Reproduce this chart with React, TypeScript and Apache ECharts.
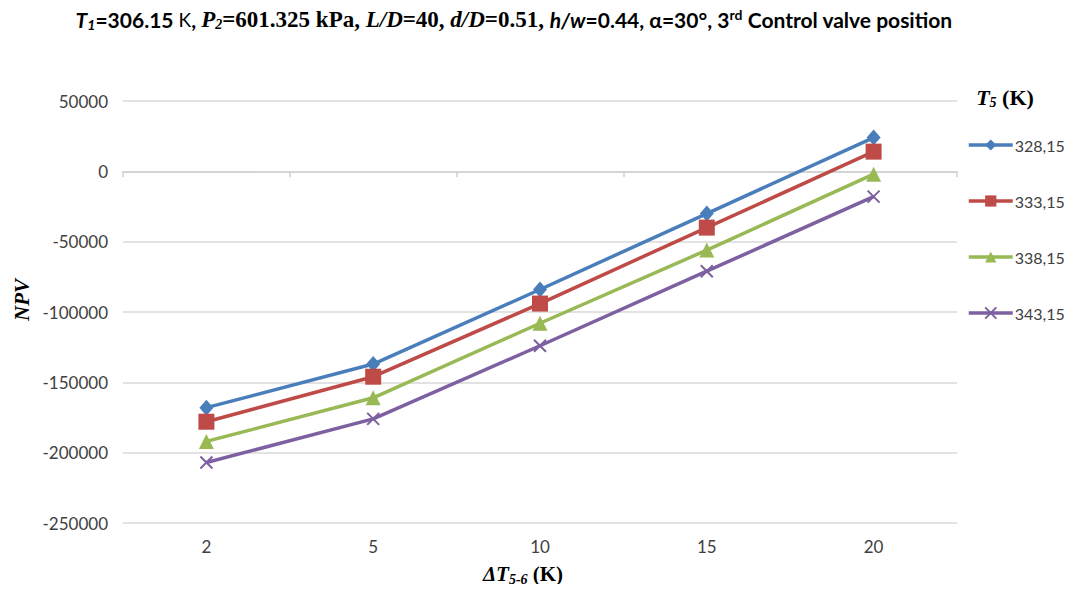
import React, { useEffect, useRef } from "react";
import * as echarts from "echarts";

const categories = ["2", "5", "10", "15", "20"];
const seriesNames = ["328,15", "333,15", "338,15", "343,15"];
const npv328 = [-168000, -137000, -84000, -30000, 24000];
const npv333 = [-178000, -146000, -94000, -40000, 14000];
const npv338 = [-192000, -161000, -108000, -56000, -2000];
const npv343 = [-207000, -176000, -124000, -71000, -18000];
const colors = ["#4a7ebb", "#be4b48", "#98b954", "#7d60a0"];
const symbols = [
  "diamond",
  "rect",
  "triangle",
  "path://M0,0L10,10M10,0L0,10",
];
const symbolSizes = [[14, 16], 16, 15, 12];

const CAL = "'Lato', sans-serif";
const TNR = "'Liberation Serif', 'Times New Roman', serif";

export default function App() {
  const ref = useRef<HTMLDivElement>(null);
  useEffect(() => {
    if (!ref.current) return;
    const chart = echarts.init(ref.current, null, { renderer: "svg" });
    const allData = [npv328, npv333, npv338, npv343];
    const main = { fontSize: 21, fontWeight: "bold", color: "#000", lineHeight: 28, verticalAlign: "middle" };
    const titleRich: any = {
      ci: { ...main, fontFamily: CAL, fontStyle: "italic" },
      cb: { ...main, fontFamily: CAL },
      cn: { ...main, fontFamily: CAL, fontWeight: "normal", fontSize: 19 },
      csub: { fontFamily: CAL, fontStyle: "italic", fontWeight: "bold", fontSize: 14, color: "#000", padding: [10, 0, 0, 0] },
      csup: { fontFamily: CAL, fontWeight: "bold", fontSize: 14, color: "#000", padding: [0, 0, 10, 0] },
      ti: { ...main, fontFamily: TNR, fontStyle: "italic", fontSize: 23 },
      tb: { ...main, fontFamily: TNR, fontSize: 23 },
      tsub: { fontFamily: TNR, fontStyle: "italic", fontWeight: "bold", fontSize: 14, color: "#000", padding: [10, 0, 0, 0] },
    };
    chart.setOption({
      animation: false,
      backgroundColor: "#fff",
      title: {
        left: 509,
        textAlign: "center",
        top: 0,
        text:
          "{ci|T}{csub|1}{cb|=306.15 }{cn|K}{cb|, }{ti|P}{tsub|2}{tb|=601.325 kPa, }{ti|L/D}{tb|=40, }{ti|d/D}{tb|=0.51, }{ci|h/w}{cb|=0.44, α=30°, 3}{csup|rd}{cb| Control valve position}",
        textStyle: { rich: titleRich },
      },
      grid: { left: 123, right: 116, top: 101, bottom: 69 },
      legend: {
        orient: "vertical",
        left: 962,
        top: 132,
        itemWidth: 44,
        itemHeight: 14,
        itemGap: 40,
        data: seriesNames,
        lineStyle: { width: 3.5 },
        textStyle: { fontFamily: CAL, fontSize: 16, color: "#404040", padding: [0, 0, 0, -3] },
      },
      xAxis: [
        {
          type: "category",
          data: categories,
          position: "bottom",
          axisLine: { show: false, onZero: false },
          axisTick: { show: false },
          axisLabel: { margin: 15, fontFamily: CAL, fontSize: 17, color: "#404040" },
          splitLine: { show: false },
        },
        {
          type: "category",
          data: categories,
          position: "bottom",
          axisLine: { show: true, onZero: true, lineStyle: { color: "#d0d0d0", width: 1.5 } },
          axisTick: { show: true, length: 6, lineStyle: { color: "#d0d0d0", width: 1.5 } },
          axisLabel: { show: false },
          splitLine: { show: false },
        },
      ],
      yAxis: {
        type: "value",
        min: -250000,
        max: 50000,
        interval: 50000,
        axisLine: { show: false },
        axisTick: { show: false },
        axisLabel: {
          margin: 15,
          fontFamily: CAL,
          fontSize: 17,
          color: "#404040",
          formatter: (v: number) => String(v),
        },
        splitLine: { lineStyle: { color: "#d9d9d9", width: 1.5 } },
      },
      graphic: [
        {
          type: "text",
          x: 22,
          y: 300,
          rotation: Math.PI / 2,
          style: {
            text: "NPV",
            font: `italic bold 21px ${TNR}`,
            fill: "#000",
            align: "center",
            verticalAlign: "middle",
          },
        },
        {
          type: "text",
          x: 523,
          y: 574,
          style: {
            text: "{i|ΔT}{s|5-6}{b| (K)}",
            align: "center",
            verticalAlign: "middle",
            rich: {
              i: { fontFamily: TNR, fontStyle: "italic", fontWeight: "bold", fontSize: 21, fill: "#000", verticalAlign: "middle" } as any,
              s: { fontFamily: TNR, fontStyle: "italic", fontWeight: "bold", fontSize: 14, fill: "#000", padding: [10, 0, 0, 0] } as any,
              b: { fontFamily: TNR, fontWeight: "bold", fontSize: 21, fill: "#000", verticalAlign: "middle" } as any,
            },
          },
        },
        {
          type: "text",
          x: 1005,
          y: 97,
          style: {
            text: "{i|T}{s|5}{b| (K)}",
            align: "center",
            verticalAlign: "middle",
            rich: {
              i: { fontFamily: TNR, fontStyle: "italic", fontWeight: "bold", fontSize: 22, fill: "#000", verticalAlign: "middle" } as any,
              s: { fontFamily: TNR, fontStyle: "italic", fontWeight: "bold", fontSize: 14, fill: "#000", padding: [10, 0, 0, 0] } as any,
              b: { fontFamily: TNR, fontWeight: "bold", fontSize: 22, fill: "#000", verticalAlign: "middle" } as any,
            },
          },
        },
      ],
      series: allData.map((d, i) => ({
        name: seriesNames[i],
        type: "line",
        xAxisIndex: 0,
        data: d,
        symbol: symbols[i],
        symbolSize: symbolSizes[i],
        lineStyle: { color: colors[i], width: 3.5 },
        itemStyle:
          i === 3
            ? { color: colors[i], borderColor: colors[i], borderWidth: 2 }
            : { color: colors[i], borderWidth: 0 },
      })),
    });
    return () => chart.dispose();
  }, []);
  return <div ref={ref} style={{ width: 1073, height: 592, margin: -8 }} />;
}
